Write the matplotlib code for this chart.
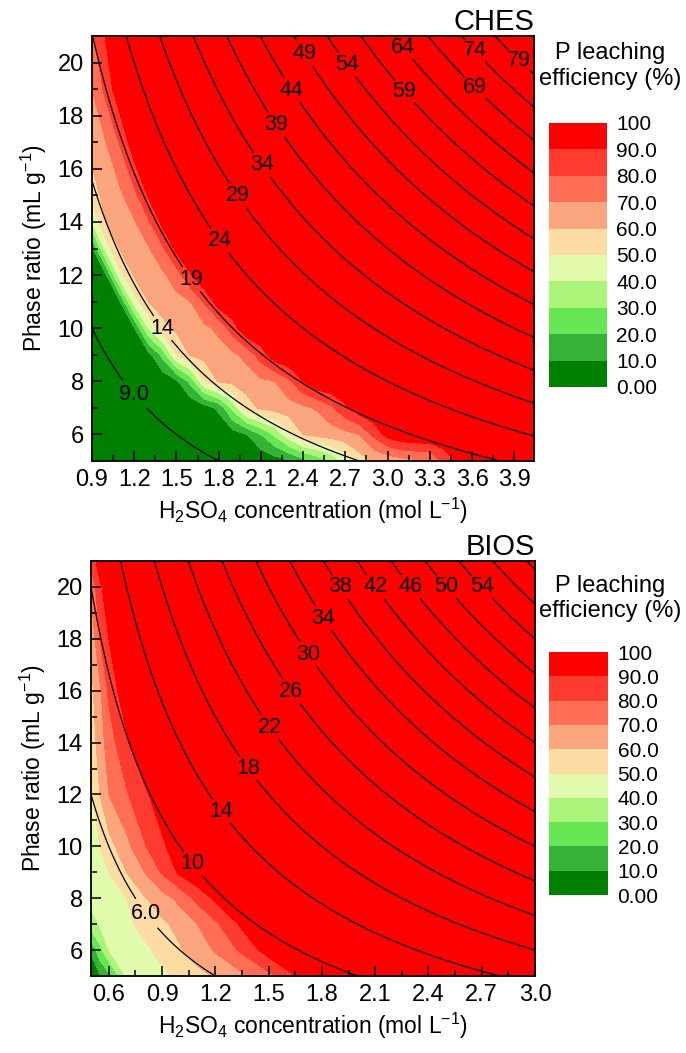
import matplotlib
matplotlib.use("Agg")
import matplotlib.pyplot as plt
import numpy as np
from matplotlib.ticker import MultipleLocator

plt.rcParams["font.family"] = ["Liberation Sans", "DejaVu Sans"]
plt.rcParams["mathtext.default"] = "regular"

# P leaching efficiency bands (%)
eff_levels = [0, 10, 20, 30, 40, 50, 60, 70, 80, 90, 100]
eff_colors = ["#008000", "#36b236", "#66e652", "#aaf47a", "#e2faac",
              "#fcdca2", "#faa57d", "#ff6e55", "#ff3a2e", "#ff0000"]
eff_ticklabels = ["0.00", "10.0", "20.0", "30.0", "40.0", "50.0",
                  "60.0", "70.0", "80.0", "90.0", "100"]

# CHES: efficiency on a grid of H2SO4 concentration (mol/L) x phase ratio (mL/g)
ches_conc = [0.9, 1.0, 1.1, 1.2, 1.3, 1.4, 1.5, 1.6, 1.7, 1.8, 1.9, 2.0, 2.1, 2.2, 2.3,
             2.4, 2.5, 2.6, 2.7, 2.8, 2.9, 3.0, 3.1, 3.2, 3.3, 3.4, 3.5, 3.6, 4.04]
ches_ratio = [5, 6, 7, 8, 9, 10, 11, 12, 13, 14, 15, 17, 19, 21]
ches_eff = [
    [2, 2, 2, 2, 2, 2, 2, 2, 2, 2, 2, 2, 2, 5, 9, 16, 23, 32, 43, 55, 61, 63, 66, 68, 70, 82, 92, 99, 100],
    [2, 2, 2, 2, 2, 2, 2, 2, 2, 2, 5, 10, 20, 32, 47, 60, 63, 65, 67, 70, 82, 94, 99, 100, 100, 100, 100, 100, 100],
    [2, 2, 2, 2, 2, 2, 2, 2, 5, 12, 33, 55, 62, 64, 66, 68, 71, 78, 88, 97, 100, 100, 100, 100, 100, 100, 100, 100, 100],
    [2, 2, 2, 2, 2, 2, 8, 23, 50, 61, 63, 65, 68, 70, 78, 90, 99, 100, 100, 100, 100, 100, 100, 100, 100, 100, 100, 100, 100],
    [2, 2, 2, 2, 6, 23, 50, 61, 63, 66, 68, 73, 85, 97, 100, 100, 100, 100, 100, 100, 100, 100, 100, 100, 100, 100, 100, 100, 100],
    [2, 2, 2, 9, 40, 57, 62, 65, 68, 72, 85, 99, 100, 100, 100, 100, 100, 100, 100, 100, 100, 100, 100, 100, 100, 100, 100, 100, 100],
    [2, 2, 10, 45, 60, 64, 67, 70, 81, 96, 100, 100, 100, 100, 100, 100, 100, 100, 100, 100, 100, 100, 100, 100, 100, 100, 100, 100, 100],
    [2, 9, 47, 61, 64, 68, 75, 89, 100, 100, 100, 100, 100, 100, 100, 100, 100, 100, 100, 100, 100, 100, 100, 100, 100, 100, 100, 100, 100],
    [8, 45, 61, 65, 69, 78, 93, 100, 100, 100, 100, 100, 100, 100, 100, 100, 100, 100, 100, 100, 100, 100, 100, 100, 100, 100, 100, 100, 100],
    [40, 60, 65, 69, 78, 93, 100, 100, 100, 100, 100, 100, 100, 100, 100, 100, 100, 100, 100, 100, 100, 100, 100, 100, 100, 100, 100, 100, 100],
    [55, 64, 68, 77, 91, 100, 100, 100, 100, 100, 100, 100, 100, 100, 100, 100, 100, 100, 100, 100, 100, 100, 100, 100, 100, 100, 100, 100, 100],
    [64, 70, 81, 97, 100, 100, 100, 100, 100, 100, 100, 100, 100, 100, 100, 100, 100, 100, 100, 100, 100, 100, 100, 100, 100, 100, 100, 100, 100],
    [70, 83, 98, 100, 100, 100, 100, 100, 100, 100, 100, 100, 100, 100, 100, 100, 100, 100, 100, 100, 100, 100, 100, 100, 100, 100, 100, 100, 100],
    [78, 91, 100, 100, 100, 100, 100, 100, 100, 100, 100, 100, 100, 100, 100, 100, 100, 100, 100, 100, 100, 100, 100, 100, 100, 100, 100, 100, 100],
]
ches_dose_levels = [9, 14, 19, 24, 29, 34, 39, 44, 49, 54, 59, 64, 69, 74, 79]

# BIOS
bios_conc = [0.5, 0.55, 0.6, 0.7, 0.8, 0.9, 1.0, 1.1, 1.2, 1.35, 1.5, 1.7, 2.0, 3.0]
bios_ratio = [5, 6, 7, 8, 9, 10, 12, 14, 16, 18, 20, 21]
bios_eff = [
    [4, 9, 17, 41, 44, 48, 52, 57, 61, 68, 77, 94, 100, 100],
    [11, 27, 40, 44, 48, 53, 59, 65, 71, 82, 95, 100, 100, 100],
    [35, 41, 43, 48, 53, 58, 63, 70, 78, 92, 100, 100, 100, 100],
    [43, 45, 47, 50, 59, 66, 73, 83, 92, 100, 100, 100, 100, 100],
    [45, 47, 50, 60, 70, 81, 92, 99, 100, 100, 100, 100, 100, 100],
    [47, 50, 56, 67, 79, 88, 97, 100, 100, 100, 100, 100, 100, 100],
    [48, 60, 70, 79, 88, 96, 100, 100, 100, 100, 100, 100, 100, 100],
    [54, 65, 75, 88, 98, 100, 100, 100, 100, 100, 100, 100, 100, 100],
    [57, 68, 82, 98, 100, 100, 100, 100, 100, 100, 100, 100, 100, 100],
    [62, 80, 90, 100, 100, 100, 100, 100, 100, 100, 100, 100, 100, 100],
    [72, 88, 96, 100, 100, 100, 100, 100, 100, 100, 100, 100, 100, 100],
    [84, 95, 100, 100, 100, 100, 100, 100, 100, 100, 100, 100, 100, 100],
]
bios_dose_levels = [6, 10, 14, 18, 22, 26, 30, 34, 38, 42, 46, 50, 54, 58, 62]
bios_labelled = [6, 10, 14, 18, 22, 26, 30, 34, 38, 42, 46, 50, 54]


def dose_fmt(v):
    return "%.1f" % v if v < 10 else "%d" % round(v)


def draw_panel(ax, cax, conc, ratio, eff, xlim, xticks, dose_levels, labelled,
               label_pos, name, cb_title_y):
    cf = ax.contourf(conc, ratio, eff, levels=eff_levels, colors=eff_colors)

    # iso-lines of acid dose (mmol H2SO4 per g) = concentration x phase ratio
    gx, gy = np.meshgrid(np.linspace(xlim[0], xlim[1], 400), np.linspace(5, 21, 400))
    cs = ax.contour(gx, gy, gx * gy, levels=dose_levels, colors="black", linewidths=0.9)
    texts = ax.clabel(cs, levels=labelled, manual=label_pos, fmt=dose_fmt,
                      fontsize=15.5, inline=True, inline_spacing=3)
    for t in texts:
        t.set_rotation(0)

    ax.set_xlim(*xlim)
    ax.set_ylim(5, 21)
    ax.set_xticks(xticks)
    ax.set_xticklabels(["%.1f" % v for v in xticks])
    ax.xaxis.set_minor_locator(MultipleLocator(0.15))
    ax.set_yticks([6, 8, 10, 12, 14, 16, 18, 20])
    ax.yaxis.set_minor_locator(MultipleLocator(1))
    ax.tick_params(which="both", direction="in", top=False, right=False, labelsize=17, pad=6)
    ax.tick_params(which="major", length=7, width=1.1)
    ax.tick_params(which="minor", length=4, width=1.1)
    for sp in ax.spines.values():
        sp.set_linewidth(1.3)
    ax.set_xlabel("H$_2$SO$_4$ concentration (mol L$^{-1}$)", fontsize=16.5, labelpad=3)
    ax.set_ylabel("Phase ratio (mL g$^{-1}$)", fontsize=16.5, labelpad=6)
    ax.set_title(name, loc="right", fontsize=21, pad=2)

    cb = fig.colorbar(cf, cax=cax, ticks=eff_levels)
    cb.ax.set_yticklabels(eff_ticklabels)
    cb.ax.tick_params(length=0, labelsize=15, pad=7)
    cb.outline.set_visible(False)
    fig.text(610 / 686, cb_title_y, "P leaching\nefficiency (%)", ha="center", va="center",
             fontsize=17, linespacing=1.2)


fig = plt.figure(figsize=(6.86, 10.53), dpi=100)
ax1 = fig.add_axes([0.1341, 0.5622, 0.6443, 0.4036])
cax1 = fig.add_axes([0.800, 0.6325, 0.0845, 0.2507])
ax2 = fig.add_axes([0.1327, 0.0731, 0.6472, 0.3941])
cax2 = fig.add_axes([0.800, 0.1500, 0.0860, 0.2308])

draw_panel(ax1, cax1, ches_conc, ches_ratio, ches_eff, (0.9, 4.04),
           [0.9, 1.2, 1.5, 1.8, 2.1, 2.4, 2.7, 3.0, 3.3, 3.6, 3.9],
           ches_dose_levels, ches_dose_levels,
           [(1.2, 7.5), (1.4, 10.0), (1.62, 11.9), (1.81, 13.3), (1.94, 15.0),
            (2.12, 16.2), (2.22, 17.7), (2.33, 19.0), (2.42, 20.4), (2.73, 20.0),
            (3.14, 19.0), (3.13, 20.65), (3.64, 19.15), (3.64, 20.55), (3.95, 20.2)],
           "CHES", 0.9373)

draw_panel(ax2, cax2, bios_conc, bios_ratio, bios_eff, (0.5, 3.0),
           [0.6, 0.9, 1.2, 1.5, 1.8, 2.1, 2.4, 2.7, 3.0],
           bios_dose_levels, bios_labelled,
           [(0.80, 7.35), (1.05, 9.2), (1.22, 11.3), (1.36, 12.9), (1.50, 14.55),
            (1.62, 15.95), (1.70, 17.3), (1.81, 18.8), (1.9, 20.0), (2.1, 20.0),
            (2.3, 20.0), (2.5, 20.0), (2.7, 20.0)],
           "BIOS", 0.4316)

fig.savefig("out.png", dpi=100)
